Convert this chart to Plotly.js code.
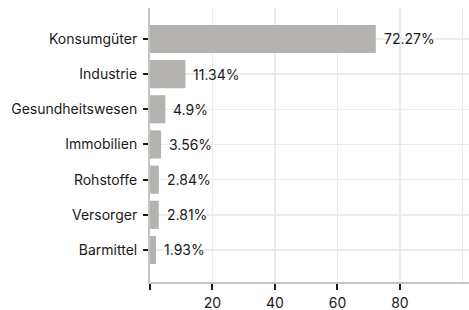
<!DOCTYPE html>
<html>
<head>
<meta charset="utf-8">
<script src="https://cdn.plot.ly/plotly-3.0.1.min.js"></script>
<style>html,body{margin:0;padding:0;background:#fff;}#chart{width:469px;height:310px;}</style>
</head>
<body>
<div id="chart"></div>
<script>
const categories = ["Konsumgüter", "Industrie", "Gesundheitswesen", "Immobilien", "Rohstoffe", "Versorger", "Barmittel"];
const values = [72.27, 11.34, 4.9, 3.56, 2.84, 2.81, 1.93];
const valueLabels = ["72.27%", "11.34%", "4.9%", "3.56%", "2.84%", "2.81%", "1.93%"];
const xTickVals = [0, 20, 40, 60, 80];
const xTickText = ["", "20", "40", "60", "80"];

const FONT = "Inter, 'Noto Sans', sans-serif";
const trace = {
  type: "bar",
  orientation: "h",
  x: values,
  y: categories,
  width: 0.8,
  marker: { color: "#b4b3af" },
  hoverinfo: "skip"
};
const annotations = categories.map((c, i) => ({
  x: values[i], y: c, xref: "x", yref: "y",
  text: valueLabels[i], showarrow: false,
  xanchor: "left", yanchor: "middle", xshift: 6,
  font: { family: FONT, size: 14, color: "#1a1a1a" }
}));
const layout = {
  width: 469, height: 310,
  margin: { l: 150, r: 0, t: 8, b: 28 },
  paper_bgcolor: "#ffffff", plot_bgcolor: "#ffffff",
  font: { family: FONT, size: 14, color: "#1a1a1a" },
  showlegend: false,
  bargap: 0.2,
  xaxis: {
    range: [0, 102.1],
    tickmode: "array", tickvals: xTickVals, ticktext: xTickText,
    ticks: "outside", ticklen: 6, tickwidth: 2, tickcolor: "#1a1a1a",
    showline: true, linecolor: "#c4c4c4", linewidth: 2,
    showgrid: true, gridcolor: "#ececec", gridwidth: 1.5,
    minor: { tickmode: "array", tickvals: [100], showgrid: true, gridcolor: "#ececec", gridwidth: 1.5, ticks: "" },
    zeroline: false,
    ticklabelstandoff: 1,
    tickfont: { family: FONT, size: 14, color: "#1a1a1a" },
    fixedrange: true
  },
  yaxis: {
    type: "category",
    categoryorder: "array", categoryarray: categories,
    range: [6.91, -0.88],
    ticks: "outside", ticklen: 5, tickwidth: 2, tickcolor: "#1a1a1a",
    showline: true, linecolor: "#c4c4c4", linewidth: 2,
    showgrid: true, gridcolor: "#ececec", gridwidth: 1.5,
    zeroline: false,
    ticklabelstandoff: 3,
    tickfont: { family: FONT, size: 14, color: "#1a1a1a" },
    fixedrange: true
  },
  annotations: annotations
};
Plotly.newPlot("chart", [trace], layout, { displayModeBar: false, staticPlot: true });
</script>
</body>
</html>
